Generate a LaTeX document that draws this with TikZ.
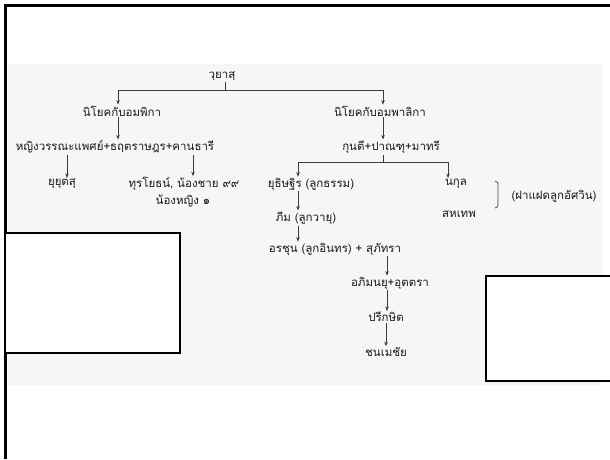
\documentclass[tikz,border=0pt]{standalone}
\usepackage{fontspec}
\usepackage{tikz}
\usetikzlibrary{arrows.meta,positioning,calc}
\newfontfamily\thaifont[Script=Thai]{Loma}
\definecolor{inkGray}{RGB}{60,60,60}
\definecolor{scanGray}{RGB}{246,246,246}
\tikzset{
  fam/.style={font=\thaifont\fontsize{11.5}{13}\selectfont,text=black!90,inner sep=1pt},
  arr/.style={-{Stealth[length=4.5pt,width=3.6pt]},inkGray,line width=0.7pt},
  bar/.style={inkGray,line width=0.7pt},
  blank/.style={draw=black,fill=white,line width=1.2pt}
}
\begin{document}
\begin{tikzpicture}[x=1pt,y=-1pt]
    \useasboundingbox (0,0) rectangle (610,459);
    \fill[white] (0,0) rectangle (610,459);

    % ── scan background ──────────────────────────────────
    \fill[scanGray] (8,64) rectangle (602,385);

    % ── frame ────────────────────────────────────────────
    \draw[black,line width=3pt] (5,459) -- (5,5) -- (612,5);

    % ── top: Vyasa ───────────────────────────────────────
    \node[fam] (vyasa)    at (222,76) {วฺยาสฺ};
    \node[fam] (ambika)   at (122,111){นิโยคกับอมพิกา};
    \node[fam] (ambalika) at (380,111){นิโยคกับอมพาลิกา};
    \coordinate (j1) at (225,90);
    \draw[bar] (vyasa.south -| j1) -- (j1);
    \draw[arr] (j1) -| ([xshift=-4]ambika.north);
    \draw[arr,line width=0.9pt] (j1) -| ([xshift=3]ambalika.north);

    % ── Ambika line ──────────────────────────────────────
    \node[fam] (dhrita)  at (115,147){หญิงวรรณะแพศย์+ธฤตราษฎร+คานธารี};
    \node[fam] (yuyutsu) at (62,184) {ยุยุตสุ};
    \node[fam] (duryo)   at (184,184){ทุรโยธน์, น้องชาย ๙๙};
    \node[fam] (sister)  at (183,201){น้องหญิง ๑};
    \draw[arr] ([xshift=-4]ambika.south) -- ([xshift=-4]ambika.south |- dhrita.north);
    \draw[arr] ([xshift=5]yuyutsu.north |- dhrita.south) -- ([xshift=5]yuyutsu.north);
    \draw[arr] ([xshift=9]duryo.north |- dhrita.south) -- ([xshift=9]duryo.north);

    % ── Ambalika line ────────────────────────────────────
    \node[fam] (pandu)  at (391,147){กุนตี+ปาณฑุ+มาทรี};
    \draw[arr,line width=0.9pt] ([xshift=3]ambalika.south) -- ([xshift=3]ambalika.south |- pandu.north);
    \node[fam] (yudhi)  at (311,184){ยุธิษฐิร (ลูกธรรม)};
    \node[fam] (nakula) at (456,184){นกุล};
    \node[fam] (sahad)  at (459,214){สหเทพ};
    \node[fam] (twins)  at (554,196){(ฝาแฝดลูกอัศวิน)};
    \coordinate (j2) at (383,162);
    \draw[bar] (pandu.south -| j2) -- (j2);
    \draw[arr] (j2) -| ([xshift=-13]yudhi.north);
    \draw[arr,line width=0.9pt] (j2) -| ([xshift=-8]nakula.north);
    \draw[bar] (495,181) .. controls (498,182) .. (498,186) -- (498,204)
               .. controls (498,207) .. (495,208);

    % ── Pandava descent ──────────────────────────────────
    \node[fam] (bhima)  at (306,218){ภีม (ลูกวายุ)};
    \node[fam] (arjuna) at (335,249){อรชุน (ลูกอินทร) + สุภัทรา};
    \node[fam] (abhi)   at (390,283){อภิมนยุ+อุตตรา};
    \node[fam] (parik)  at (386,317){ปรีกษิต};
    \node[fam] (jana)   at (386,352){ชนเมชัย};
    \draw[arr] ([xshift=-13]yudhi.south) -- ([xshift=-13]yudhi.south |- bhima.north);
    \draw[arr] ([xshift=-8]bhima.south) -- ([xshift=-8]bhima.south |- arjuna.north);
    \draw[arr] ([xshift=52]arjuna.south) -- ([xshift=52]arjuna.south |- abhi.north);
    \draw[arr] ([xshift=-3]abhi.south) -- ([xshift=-3]abhi.south |- parik.north);
    \draw[arr] (parik.south) -- (jana.north);

    % ── blank boxes ──────────────────────────────────────
    \draw[blank] (5,233) rectangle (180,353);
    \draw[blank] (486,276) rectangle (614,381);

\end{tikzpicture}
\end{document}
